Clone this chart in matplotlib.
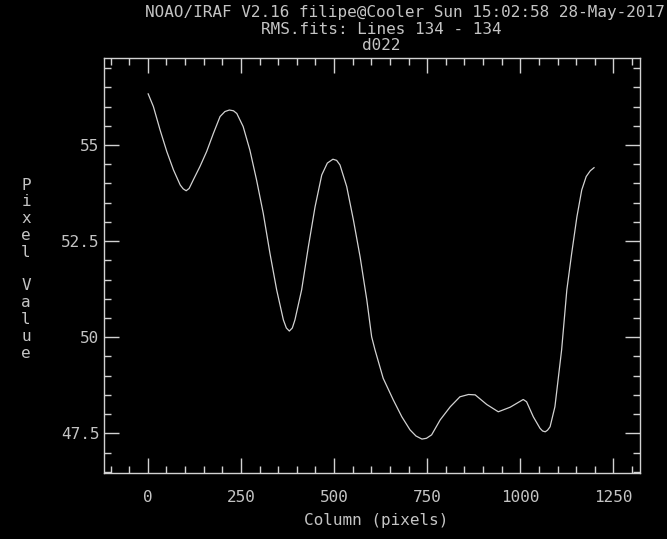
import numpy as np
import matplotlib.pyplot as plt
from matplotlib.ticker import MultipleLocator

# perfil da linha 134 (coluna, valor do pixel)
colunas = [1, 15, 33, 51, 69, 87, 95, 103, 111, 122, 140, 158, 176, 194,
           207, 219, 230, 239, 256, 274, 292, 310, 328, 346, 364, 372, 380,
           388, 395, 413, 431, 449, 467, 482, 497, 507, 516, 534, 552, 570,
           588, 601, 610, 632, 659, 682, 704, 720, 736, 748, 762, 785, 812,
           838, 861, 879, 910, 941, 973, 1008, 1017, 1035, 1053, 1060, 1067,
           1073, 1080, 1093, 1102, 1111, 1125, 1138, 1152, 1165, 1177, 1188,
           1198]
valores = [56.33, 56.00, 55.39, 54.83, 54.35, 53.96, 53.86, 53.81, 53.87,
           54.09, 54.44, 54.83, 55.30, 55.74, 55.87, 55.91, 55.89, 55.82,
           55.48, 54.87, 54.09, 53.22, 52.18, 51.23, 50.45, 50.24, 50.16,
           50.24, 50.45, 51.23, 52.35, 53.39, 54.22, 54.53, 54.63, 54.60,
           54.48, 53.92, 53.05, 52.09, 50.97, 50.01, 49.67, 48.93, 48.37,
           47.93, 47.59, 47.43, 47.35, 47.37, 47.46, 47.85, 48.19, 48.45,
           48.51, 48.50, 48.25, 48.06, 48.18, 48.38, 48.32, 47.93, 47.63,
           47.56, 47.54, 47.58, 47.67, 48.19, 48.93, 49.67, 51.23, 52.18,
           53.13, 53.83, 54.18, 54.33, 54.41]

titulo1 = 'NOAO/IRAF V2.16 filipe@Cooler Sun 15:02:58 28-May-2017'
titulo2 = 'RMS.fits: Lines 134 - 134'
titulo3 = 'd022'
rotulo_x = 'Column (pixels)'
rotulo_y = 'Pixel Value'

cor = '#d2d2d2'
cor_texto = '#c4c4c4'
fonte = 'DejaVu Sans Mono'
tam = 11.5

fig = plt.figure(figsize=(6.67, 5.39), dpi=100, facecolor='black')
ax = fig.add_axes([0.1553, 0.1224, 0.8042, 0.7694], facecolor='black')

ax.plot(colunas, valores, color=cor, linewidth=0.9)

ax.set_xlim(-118.7, 1321.4)
ax.set_ylim(46.467, 57.255)

ax.xaxis.set_major_locator(MultipleLocator(250))
ax.xaxis.set_minor_locator(MultipleLocator(50))
ax.yaxis.set_major_locator(MultipleLocator(2.5))
ax.yaxis.set_minor_locator(MultipleLocator(0.5))
ax.set_yticks([47.5, 50, 52.5, 55])
ax.set_yticklabels(['47.5', '50', '52.5', '55'])

ax.tick_params(which='both', direction='in', top=True, right=True,
               color=cor, width=1.0)
ax.tick_params(which='major', length=11)
ax.tick_params(which='minor', length=5)
ax.tick_params(axis='x', which='major', pad=12)
ax.tick_params(axis='y', which='major', pad=3)

for lab in ax.get_xticklabels() + ax.get_yticklabels():
    lab.set_fontfamily(fonte)
    lab.set_fontsize(tam)
    lab.set_color(cor_texto)

for s in ax.spines.values():
    s.set_color(cor)
    s.set_linewidth(1.0)

# cabecalho
fig.text(665 / 667, 1 - 12 / 539, titulo1, ha='right', va='center',
         family=fonte, fontsize=tam, color=cor_texto)
fig.text(381 / 667, 1 - 29 / 539, titulo2, ha='center', va='center',
         family=fonte, fontsize=tam, color=cor_texto)
fig.text(381 / 667, 1 - 45 / 539, titulo3, ha='center', va='center',
         family=fonte, fontsize=tam, color=cor_texto)

fig.text(376 / 667, 1 - 520 / 539, rotulo_x, ha='center', va='center',
         family=fonte, fontsize=tam, color=cor_texto)

# rotulo vertical, uma letra por linha
for i, ch in enumerate(rotulo_y):
    fig.text(26 / 667, 1 - (185 + 16.8 * i) / 539, ch, ha='center',
             va='center', family=fonte, fontsize=tam, color=cor_texto)

plt.savefig('out.png', dpi=100, facecolor='black')
